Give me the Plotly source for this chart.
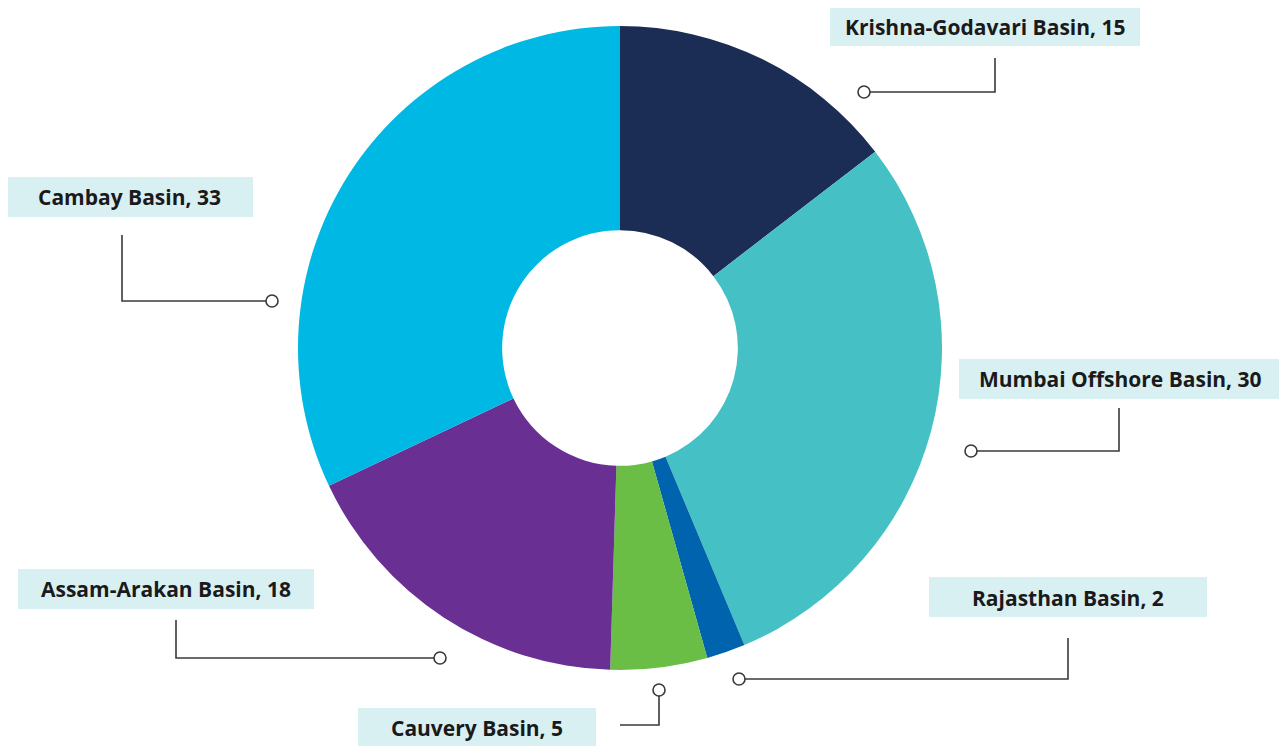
import plotly.graph_objects as go

labels = ["Krishna-Godavari Basin", "Mumbai Offshore Basin", "Rajasthan Basin",
          "Cauvery Basin", "Assam-Arakan Basin", "Cambay Basin"]
values = [15, 30, 2, 5, 18, 33]
colors = ["#1b2d54", "#45c1c5", "#0063ad", "#6abd45", "#6a2f93", "#00b8e4"]

W, H = 1287, 746
OFF = 8  # page body margin

def px(x):
    return (x - OFF) / W

def py(y):
    return 1 - (y - OFF) / H

fig = go.Figure(go.Pie(
    labels=labels, values=values, marker=dict(colors=colors, line=dict(width=0)),
    hole=0.366, sort=False, direction="clockwise", rotation=0,
    textinfo="none", hoverinfo="label+value", showlegend=False,
    domain=dict(x=[px(298), px(942)], y=[py(670), py(26)]),
))

# label layout (pixel positions): box (x0, y0, x1, y1), leader path points, circle point
layout_info = [
    dict(box=(830, 6, 1140, 46), path=[(995, 58), (995, 92), (864, 92)]),
    dict(box=(959, 359, 1281, 399), path=[(1119, 408), (1119, 451), (971, 451)]),
    dict(box=(929, 577, 1207, 617), path=[(1068, 638), (1068, 679), (739, 679)]),
    dict(box=(358, 708, 596, 750), path=[(620, 725), (659, 725), (659, 690)]),
    dict(box=(18, 569, 314, 609), path=[(176, 620), (176, 658), (440, 658)]),
    dict(box=(6, 177, 253, 217), path=[(122, 235), (122, 301), (272, 301)]),
]
text_y = [27, 379, 598, 728, 589, 197]

shapes = []
annotations = []
for lab, val, info, ty in zip(labels, values, layout_info, text_y):
    x0, y0, x1, y1 = info["box"]
    shapes.append(dict(type="rect", xref="paper", yref="paper",
                       x0=px(x0), x1=px(x1), y0=py(y1), y1=py(y0),
                       fillcolor="#d9f0f3", line=dict(width=0), layer="below"))
    annotations.append(dict(xref="paper", yref="paper",
                            x=px((x0 + x1) / 2), y=py(ty),
                            text=f"{lab}, {val}", showarrow=False,
                            xanchor="center", yanchor="middle",
                            font=dict(family="Open Sans", size=21, weight=700,
                                      color="#1a1a1a")))
    pts = info["path"]
    path = "M " + " L ".join(f"{px(x)},{py(y)}" for x, y in pts)
    shapes.append(dict(type="path", xref="paper", yref="paper", path=path,
                       line=dict(color="#3a3a3a", width=1.6)))
    cx, cy = pts[-1]
    r = 6
    shapes.append(dict(type="circle", xref="paper", yref="paper",
                       x0=px(cx - r), x1=px(cx + r), y0=py(cy + r), y1=py(cy - r),
                       fillcolor="white", line=dict(color="#3a3a3a", width=1.6)))

fig.update_layout(
    width=W, height=H, margin=dict(l=0, r=0, t=0, b=0),
    paper_bgcolor="white", plot_bgcolor="white",
    shapes=shapes, annotations=annotations,
)

fig.write_html("out.html")
